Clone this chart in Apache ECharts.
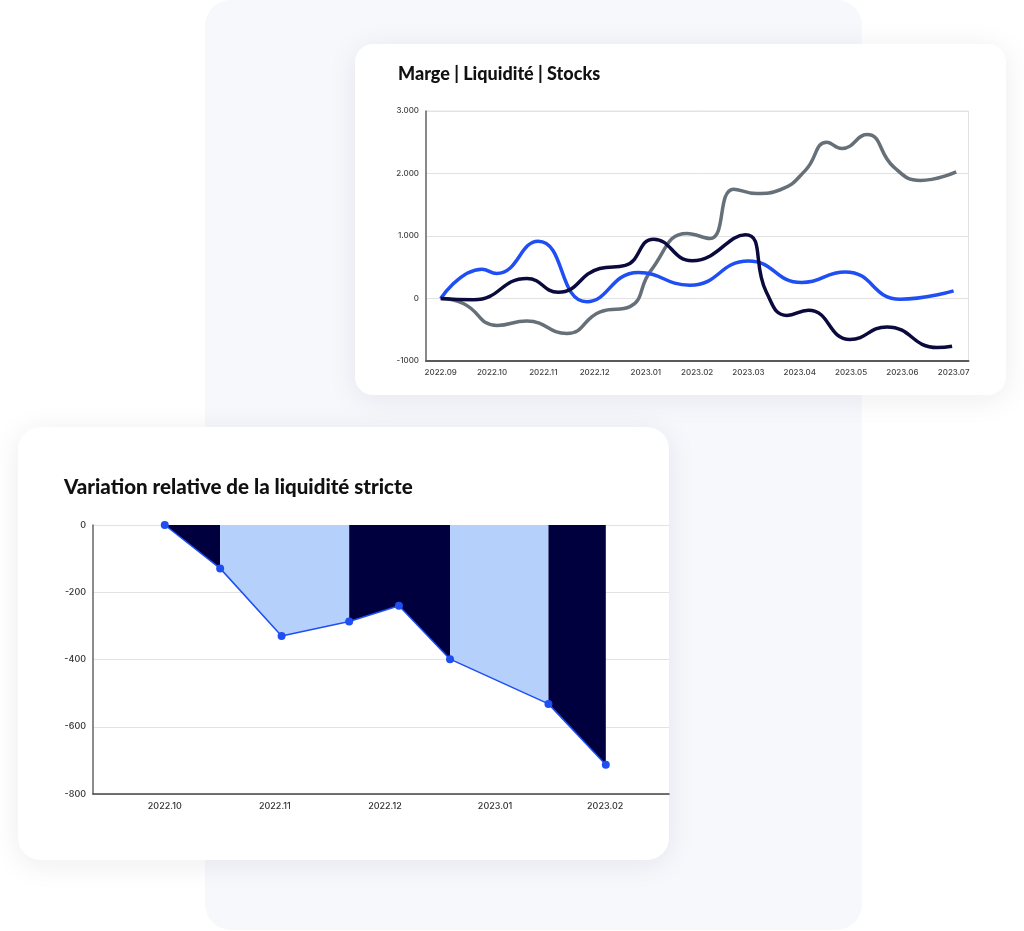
<!DOCTYPE html>
<html><head><meta charset="utf-8">
<script src="https://cdn.jsdelivr.net/npm/echarts@6/dist/echarts.min.js"></script>
<style>html,body{margin:0;padding:0;background:#fff}#c{width:1024px;height:931px}</style>
</head><body><div id="c"></div>
<script>
// ---------- Top chart: Marge | Liquidité | Stocks ----------
const topMonths = ['2022.09','2022.10','2022.11','2022.12','2023.01','2023.02','2023.03','2023.04','2023.05','2023.06','2023.07'];
const topYTickValues = [-1000, 0, 1000, 2000, 3000];
const topYTickLabels = ['-1000', '0', '1.000', '2.000', '3.000'];

// x positions in month index units (0 = 2022.09)
const margeMonth = [0, 0.80, 1.09, 1.90, 2.85, 3.85, 4.86, 6.0, 7.04, 7.89, 8.96, 10.0];
const margeValue = [0, 469, 400, 917, -53, 416, 213, 600, 256, 426, -11, 122];

const liquiditeMonth = [0, 0.64, 1.68, 2.29, 3.10, 3.60, 4.15, 4.90, 5.94, 6.35, 6.75, 7.17, 7.98, 8.70, 9.68, 9.97];
const liquiditeValue = [0, -20, 320, 100, 480, 530, 950, 605, 1020, 100, -270, -187, -655, -455, -785, -763];

const stocksMonth = [0, 0.44, 1.10, 1.68, 2.46, 3.11, 3.69, 4.10, 4.80, 5.25, 5.71, 6.16, 6.62, 7.11, 7.53, 7.82, 8.31, 8.83, 9.35, 10.05];
const stocksValue = [0, -80, -430, -360, -560, -213, -130, 450, 1040, 960, 1750, 1680, 1740, 2050, 2500, 2400, 2625, 2106, 1890, 2026];

// ---------- Bottom chart: Variation relative de la liquidité stricte ----------
const bottomMonths = ['2022.10','2022.11','2022.12','2023.01','2023.02'];
const variationMonth = [0, 0.503, 1.061, 1.675, 2.127, 2.591, 3.485, 4.006];
const variationValue = [0, -129, -330, -287, -240, -399, -532, -713];
// bands: point index ranges filled between the line and 0
const bandStart = [0, 1, 3, 5, 6];
const bandEnd   = [1, 3, 5, 6, 7];

const zip = (xs, ys) => xs.map((x, i) => [x, ys[i]]);

const C_BLUE = '#1f4ef3', C_NAVY = '#0b0a3c', C_GREY = '#667079';
const C_BAND_DARK = '#00003f', C_BAND_LIGHT = '#b4d0fb';
const tickFont = 'Inter, "Noto Sans", sans-serif';
const titleFont = 'Lato, "Noto Sans", sans-serif';

const bandSeries = bandStart.map((s, i) => ({
  type: 'line', xAxisIndex: 1, yAxisIndex: 1, z: 1,
  data: zip(variationMonth.slice(s, bandEnd[i] + 1), variationValue.slice(s, bandEnd[i] + 1)),
  symbol: 'none', lineStyle: { width: 0 },
  areaStyle: { color: i % 2 === 0 ? C_BAND_DARK : C_BAND_LIGHT, opacity: 1 },
  silent: true, animation: false
}));

const chart = echarts.init(document.getElementById('c'), null, { renderer: 'canvas' });
chart.setOption({
  animation: false,
  backgroundColor: '#ffffff',
  graphic: [
    { type: 'rect', z: -100, shape: { x: 205, y: 0, width: 657, height: 930, r: 26 }, style: { fill: '#f7f8fc' } },
    { type: 'rect', z: -90, shape: { x: 355, y: 44, width: 651, height: 351, r: 18 },
      style: { fill: '#ffffff', shadowBlur: 30, shadowColor: 'rgba(20,30,60,0.08)', shadowOffsetY: 4 } },
    { type: 'rect', z: -90, shape: { x: 18, y: 427, width: 651, height: 433, r: 22 },
      style: { fill: '#ffffff', shadowBlur: 30, shadowColor: 'rgba(20,30,60,0.08)', shadowOffsetY: 4 } },
    { type: 'text', z: 10, style: { text: 'Marge | Liquidité | Stocks', x: 398, y: 74, verticalAlign: 'middle',
      font: '900 18px ' + titleFont, fill: '#111111' } },
    { type: 'text', z: 10, style: { text: 'Variation relative de la liquidité stricte', x: 64, y: 487, verticalAlign: 'middle',
      font: '900 20.5px ' + titleFont, fill: '#111111' } }
  ],
  grid: [
    { left: 426, top: 111, width: 542.5, height: 250, show: true, borderColor: '#e2e2e2', borderWidth: 1, backgroundColor: 'transparent' },
    { left: 93, top: 525, width: 576, height: 269 }
  ],
  xAxis: [
    { type: 'value', gridIndex: 0, min: -0.287, max: 10.29,
      axisLine: { show: true, onZero: false, lineStyle: { color: '#5a5a5a', width: 2 } },
      axisTick: { show: false }, splitLine: { show: false },
      axisLabel: { customValues: topMonths.map((m, i) => i), formatter: v => topMonths[Math.round(v)],
        fontSize: 8, fontWeight: 500, color: '#444', margin: 8, fontFamily: tickFont } },
    { type: 'value', gridIndex: 1, min: -0.652, max: 4.58,
      axisLine: { show: true, onZero: false, lineStyle: { color: '#444', width: 1.5 } },
      axisTick: { show: false }, splitLine: { show: false },
      axisLabel: { customValues: bottomMonths.map((m, i) => i), formatter: v => bottomMonths[Math.round(v)],
        fontSize: 9, fontWeight: 500, color: '#333', margin: 8, fontFamily: tickFont } }
  ],
  yAxis: [
    { type: 'value', gridIndex: 0, min: -1000, max: 3000, interval: 1000,
      axisLine: { show: true, onZero: false, lineStyle: { color: '#666', width: 1.5 } },
      axisTick: { show: false }, splitLine: { show: true, lineStyle: { color: '#e2e2e2', width: 1 } },
      axisLabel: { formatter: v => topYTickLabels[topYTickValues.indexOf(v)], fontSize: 8, fontWeight: 500, color: '#444', margin: 7, fontFamily: tickFont } },
    { type: 'value', gridIndex: 1, min: -800, max: 0, interval: 200,
      axisLine: { show: true, onZero: false, lineStyle: { color: '#666', width: 1.5 } },
      axisTick: { show: false }, splitLine: { show: true, lineStyle: { color: '#e2e2e2', width: 1 } },
      axisLabel: { fontSize: 9, fontWeight: 500, color: '#333', margin: 7, fontFamily: tickFont } }
  ],
  series: [
    { name: 'Stocks', type: 'line', xAxisIndex: 0, yAxisIndex: 0, data: zip(stocksMonth, stocksValue),
      smooth: 0.5, symbol: 'none', lineStyle: { color: C_GREY, width: 3.5 }, z: 2 },
    { name: 'Marge', type: 'line', xAxisIndex: 0, yAxisIndex: 0, data: zip(margeMonth, margeValue),
      smooth: 0.5, symbol: 'none', lineStyle: { color: C_BLUE, width: 3.5 }, z: 3 },
    { name: 'Liquidité', type: 'line', xAxisIndex: 0, yAxisIndex: 0, data: zip(liquiditeMonth, liquiditeValue),
      smooth: 0.5, symbol: 'none', lineStyle: { color: C_NAVY, width: 3.5 }, z: 4 },
    ...bandSeries,
    { name: 'Variation', type: 'line', xAxisIndex: 1, yAxisIndex: 1, z: 5,
      data: zip(variationMonth, variationValue),
      symbol: 'circle', symbolSize: 8, itemStyle: { color: C_BLUE },
      lineStyle: { color: C_BLUE, width: 1.5 } }
  ]
});
</script></body></html>
